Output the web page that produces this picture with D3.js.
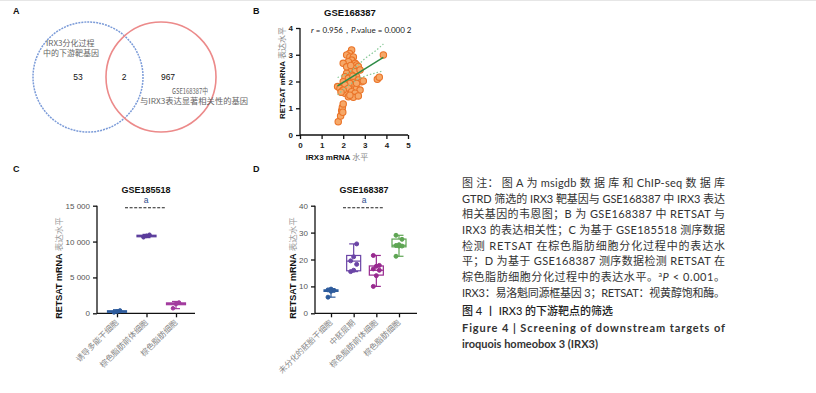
<!DOCTYPE html>
<html>
<head>
<meta charset="utf-8">
<script src="https://cdn.jsdelivr.net/npm/d3@7"></script>
<style>
body { margin: 0; background: #fff; }
svg { display: block; }
</style>
</head>
<body>
<div id="chart"></div>
<script>
// ---- data ----
var vennCounts = [53, 2, 967];
var vennLabelA = ["IRX3分化过程", "中的下游靶基因"];
var vennLabelB = ["GSE168387中", "与IRX3表达显著相关性的基因"];

var irx3Expr = [1.77,1.88,1.93,1.96,2.0,1.98,
    2.39,2.29,2.16,2.31,2.47,2.39,2.24,2.0,2.55,2.62,
    2.7,2.47,2.31,2.55,2.16,2.39,2.62,2.08,2.24,2.47,
    2.7,2.85,2.93,2.0,2.31,2.55,1.74,2.08,1.85,2.24,
    2.62,1.93,2.39,2.78,2.08,2.55,2.24,2.47,2.7,2.31,
    2.0,3.58,3.67,3.86,2.16,2.78,2.62,2.45,2.35,1.9];
var retsatExpr = [0.5,0.71,0.91,1.03,1.16,0.85,
    3.18,3.05,2.99,2.92,2.92,2.8,2.74,2.68,2.68,2.62,
    2.56,2.49,2.43,2.37,2.31,2.24,2.18,2.18,2.12,2.06,
    2.06,1.99,2.02,1.99,1.93,1.87,1.81,1.87,1.74,1.74,
    1.74,1.62,1.62,1.68,1.56,1.56,1.43,1.41,1.46,1.49,
    1.68,2.08,2.16,2.99,2.55,2.43,1.93,2.2,2.6,1.6];
var fitLine = [[1.74, 1.84], [3.86, 2.90]];
var ciUpper = [[1.74,2.15],[2.2,2.3],[2.6,2.55],[3.0,2.85],[3.5,3.15],[3.86,3.40]];
var ciLower = [[1.74,1.50],[2.2,1.82],[2.6,2.05],[3.0,2.2],[3.5,2.32],[3.86,2.40]];
var scatterTicks = [0, 1, 2, 3, 4, 5];
var scatterYTicks = [0, 1, 2, 3, 4];

var cGroups = ["诱导多能干细胞", "棕色脂肪前体细胞", "棕色脂肪细胞"];
var cPoints = [[120, 250, 400], [10600, 10800, 10950], [700, 1300, 1500]];
var cBoxes = [
    {min: 100, q1: 150, med: 250, q3: 350, max: 500},
    {min: 10550, q1: 10680, med: 10800, q3: 10880, max: 11000},
    {min: 650, q1: 1200, med: 1350, q3: 1450, max: 1650}];
var cTicks = [0, 5000, 10000, 15000];

var dGroups = ["未分化的胚胎干细胞", "中胚层期", "棕色脂肪前体细胞", "棕色脂肪细胞"];
var dPoints = [[6, 8.2, 8.5, 8.7, 9],
    [15.5, 16, 18.2, 19.5, 21, 25.8],
    [10, 14, 16, 16.5, 17.5, 17.8, 21.5],
    [21.2, 25, 25, 25.2, 25.5, 27.5, 29]];
var dBoxes = [
    {min: 6, q1: 8.2, med: 8.5, q3: 8.7, max: 9},
    {min: 15.5, q1: 15.8, med: 19.4, q3: 21.5, max: 25.8},
    {min: 10, q1: 14.2, med: 16, q3: 17.6, max: 21.5},
    {min: 21.2, q1: 24.7, med: 25.3, q3: 27.6, max: 29}];
var dTicks = [0, 10, 20, 30, 40];

var captionLines = [
    "图 注： 图 A 为 msigdb 数 据 库 和 ChIP-seq 数 据 库",
    "GTRD 筛选的 IRX3 靶基因与 GSE168387 中 IRX3 表达",
    "相关基因的韦恩图；B 为 GSE168387 中 RETSAT 与",
    "IRX3 的表达相关性；C 为基于 GSE185518 测序数据",
    "检测 RETSAT 在棕色脂肪细胞分化过程中的表达水",
    "平；D 为基于 GSE168387 测序数据检测 RETSAT 在"
];

// ---- drawing ----
var W = 816, H = 393;
var latin = "'Liberation Sans', Arial, sans-serif";
var cjk = "'Noto Sans CJK SC', sans-serif";
var capFont = "Lato, 'Noto Sans CJK SC', sans-serif";

var svg = d3.select("#chart").append("svg")
    .attr("width", W).attr("height", H);
svg.append("rect").attr("width", W).attr("height", H).attr("fill", "#fff");
svg.append("line").attr("x1", 0).attr("x2", W).attr("y1", 0.5).attr("y2", 0.5)
    .attr("stroke", "#e6e6e6");

function panelLabel(x, y, t) {
    svg.append("text").attr("x", x).attr("y", y)
        .style("font-family", latin).style("font-weight", "bold")
        .style("font-size", "9px").attr("fill", "#111").text(t);
}

function setupVenn() {
    panelLabel(13, 14, "A");
    var g = svg.append("g");
    g.append("circle").attr("cx", 88).attr("cy", 77).attr("r", 55)
        .attr("fill", "none").attr("stroke", "#7b9bd8")
        .attr("stroke-width", 1.5).attr("stroke-dasharray", "2,1");
    g.append("circle").attr("cx", 161).attr("cy", 77).attr("r", 55)
        .attr("fill", "none").attr("stroke", "#ec8a8a").attr("stroke-width", 1.6);

    g.selectAll("text.cnt").data(vennCounts).enter().append("text")
        .attr("class", "cnt")
        .attr("x", (d, i) => [78, 124, 168][i]).attr("y", 80)
        .attr("text-anchor", "middle")
        .style("font-family", latin).style("font-size", "8.5px")
        .attr("fill", "#111").text(d => d);

    g.selectAll("text.la").data(vennLabelA).enter().append("text")
        .attr("class", "la")
        .attr("x", (d, i) => i === 0 ? 46 : 43).attr("y", (d, i) => 46 + i * 9.5)
        .style("font-family", cjk).style("font-size", "8px")
        .attr("fill", "#666").text(d => d);
    g.selectAll("text.lb").data(vennLabelB).enter().append("text")
        .attr("class", "lb")
        .attr("x", (d, i) => i === 0 ? 172 : 140).attr("y", (d, i) => 93.5 + i * 10)
        .attr("textLength", (d, i) => i === 0 ? 36 : 108)
        .attr("lengthAdjust", "spacingAndGlyphs")
        .style("font-family", cjk).style("font-size", "8px")
        .attr("fill", "#666").text(d => d);
}

function setupScatter() {
    panelLabel(253, 14, "B");
    var x = d3.scaleLinear().domain([0, 5]).range([300, 408]);
    var y = d3.scaleLinear().domain([0, 4]).range([135, 28]);

    svg.append("text").attr("x", 350).attr("y", 16).attr("text-anchor", "middle")
        .style("font-family", latin).style("font-weight", "bold").style("font-size", "9.5px")
        .attr("fill", "#111").text("GSE168387");

    var ax = svg.append("g").attr("transform", "translate(0,135)")
        .call(d3.axisBottom(x).tickValues(scatterTicks).tickSize(4).tickFormat(d3.format("d")));
    var ay = svg.append("g").attr("transform", "translate(300,0)")
        .call(d3.axisLeft(y).tickValues(scatterYTicks).tickSize(4).tickFormat(d3.format("d")));
    [ax, ay].forEach(function (a) {
        a.selectAll("path,line").attr("stroke", "#111").attr("stroke-width", 1.3);
        a.selectAll("text").style("font-family", latin).style("font-weight", "bold")
            .style("font-size", "8px").attr("fill", "#222");
    });
    ax.select("path").attr("d", "M300,0H408");
    ay.select("path").attr("d", "M0,135V28");

    var pts = irx3Expr.map((d, i) => [d, retsatExpr[i]]);
    svg.append("g").selectAll("circle").data(pts).enter().append("circle")
        .attr("cx", d => x(d[0])).attr("cy", d => y(d[1])).attr("r", 3.2)
        .attr("fill", "#f6a868").attr("stroke", "#ea7327").attr("stroke-width", 1.1);

    var line = d3.line().x(d => x(d[0])).y(d => y(d[1])).curve(d3.curveMonotoneX);
    [ciUpper, ciLower].forEach(function (c) {
        svg.append("path").attr("d", line(c)).attr("fill", "none")
            .attr("stroke", "#86c896").attr("stroke-width", 1.2)
            .attr("stroke-dasharray", "1.5,2");
    });
    svg.append("path").attr("d", line(fitLine)).attr("fill", "none")
        .attr("stroke", "#2e8b46").attr("stroke-width", 1.5);

    var ann = svg.append("text").attr("x", 311).attr("y", 33)
        .style("font-family", "Lato, 'Liberation Sans', sans-serif").style("font-size", "8px")
        .attr("fill", "#222");
    ann.append("tspan").style("font-style", "italic").text("r");
    ann.append("tspan").text(" = 0.956，");
    ann.append("tspan").style("font-style", "italic").text("P");
    ann.append("tspan").text(".value = 0.000 2");

    var yl = svg.append("text").attr("transform", "translate(285,73) rotate(-90)")
        .attr("text-anchor", "middle").style("font-size", "8px");
    yl.append("tspan").style("font-family", latin).style("font-weight", "bold")
        .attr("fill", "#111").text("RETSAT mRNA ");
    yl.append("tspan").style("font-family", cjk).attr("fill", "#888").text("表达水平");

    var xl = svg.append("text").attr("x", 337).attr("y", 160)
        .attr("text-anchor", "middle").style("font-size", "8px");
    xl.append("tspan").style("font-family", latin).style("font-weight", "bold")
        .attr("fill", "#111").text("IRX3 mRNA ");
    xl.append("tspan").style("font-family", cjk).attr("fill", "#888").text("水平");
}

function drawBoxPanel(opt) {
    var x = d3.scalePoint().domain(opt.groups).range(opt.xRange);
    var y = d3.scaleLinear().domain(opt.yDomain).range([313.3, 205.7]);
    var g = svg.append("g");

    var ay = g.append("g").attr("transform", "translate(" + opt.axisX + ",0)")
        .call(d3.axisLeft(y).tickValues(opt.ticks).tickSize(4)
            .tickFormat(d => d3.format(",")(d).replace(/,/g, " ")));
    ay.select("path").attr("d", "M0,313.3V205.7");
    var ax = g.append("g").attr("transform", "translate(0,313.3)")
        .call(d3.axisBottom(x).tickSize(4).tickFormat(""));
    ax.select("path").attr("d", "M" + opt.axisX + ",0H" + opt.axisEnd);
    [ax, ay].forEach(function (a) {
        a.selectAll("path,line").attr("stroke", "#111").attr("stroke-width", 1.3);
    });
    ay.selectAll("text").style("font-family", latin).style("font-size", "8px").attr("fill", "#555");

    // group labels, rotated
    g.selectAll("text.grp").data(opt.groups).enter().append("text")
        .attr("class", "grp")
        .attr("transform", d => "translate(" + (x(d) + 2) + ",323) rotate(-45)")
        .attr("text-anchor", "end")
        .style("font-family", cjk).style("font-size", "8px")
        .attr("fill", "#888").text(d => d);

    opt.boxes.forEach(function (b, i) {
        var cx = x(opt.groups[i]), col = opt.colors[i], bw = opt.boxW, cw = opt.capW;
        var bg = g.append("g");
        bg.append("line").attr("x1", cx).attr("x2", cx).attr("y1", y(b.min)).attr("y2", y(b.max))
            .attr("stroke", col).attr("stroke-width", 1.2);
        [b.min, b.max].forEach(function (v) {
            bg.append("line").attr("x1", cx - cw / 2).attr("x2", cx + cw / 2)
                .attr("y1", y(v)).attr("y2", y(v)).attr("stroke", col).attr("stroke-width", 1.2);
        });
        bg.append("rect").attr("x", cx - bw / 2).attr("width", bw)
            .attr("y", y(b.q3)).attr("height", Math.max(1.5, y(b.q1) - y(b.q3)))
            .attr("fill", opt.filled ? col : "#fff").attr("fill-opacity", opt.filled ? 0.6 : 1)
            .attr("stroke", col).attr("stroke-width", 1.2);
        bg.append("line").attr("x1", cx - bw / 2).attr("x2", cx + bw / 2)
            .attr("y1", y(b.med)).attr("y2", y(b.med)).attr("stroke", col).attr("stroke-width", 1.2);
        bg.selectAll("circle").data(opt.points[i]).enter().append("circle")
            .attr("cx", (d, j) => cx + ((j % 3) - 1) * opt.dodge)
            .attr("cy", d => y(d)).attr("r", opt.r)
            .attr("fill", col).attr("stroke", col);
    });

    g.append("text").attr("x", opt.titleX).attr("y", 193).attr("text-anchor", "middle")
        .style("font-family", latin).style("font-weight", "bold").style("font-size", "9px")
        .attr("fill", "#111").text(opt.title);
    g.append("text").attr("x", opt.titleX).attr("y", 203).attr("text-anchor", "middle")
        .style("font-family", latin).style("font-size", "8.5px")
        .attr("fill", "#2c4d8e").text("a");
    g.append("line").attr("x1", opt.dash[0]).attr("x2", opt.dash[1])
        .attr("y1", 207.7).attr("y2", 207.7)
        .attr("stroke", "#222").attr("stroke-width", 1.1).attr("stroke-dasharray", "3,1.6");

    var yl = g.append("text").attr("transform", "translate(" + opt.labelX + ",268) rotate(-90)")
        .attr("text-anchor", "middle");
    yl.append("tspan").style("font-family", latin).style("font-weight", "bold")
        .style("font-size", "9px").attr("fill", "#111").text("RETSAT mRNA ");
    yl.append("tspan").style("font-family", cjk).style("font-size", "8.5px")
        .attr("fill", "#999").text("表达水平");
}

function setupCaption() {
    var g = svg.append("g").style("font-family", capFont).attr("fill", "#333");
    var x0 = 462, w = 263, lh = 15.65;
    g.selectAll("text.cap").data(captionLines).enter().append("text")
        .attr("class", "cap")
        .attr("x", x0).attr("y", (d, i) => 187 + i * lh)
        .attr("textLength", w).attr("lengthAdjust", "spacing")
        .style("font-size", "11px").text(d => d);

    var l7 = g.append("text").attr("x", x0).attr("y", 187 + 6 * lh)
        .attr("textLength", w).attr("lengthAdjust", "spacing").style("font-size", "11px");
    l7.append("tspan").text("棕色脂肪细胞分化过程中的表达水平。");
    l7.append("tspan").attr("dy", -4).style("font-size", "7px").text("a");
    l7.append("tspan").attr("dy", 4).style("font-style", "italic").text("P");
    l7.append("tspan").text(" < 0.001。");

    g.append("text").attr("x", x0).attr("y", 187 + 7 * lh)
        .attr("textLength", w).attr("lengthAdjust", "spacing").style("font-size", "11px")
        .text("IRX3：易洛魁同源框基因 3；RETSAT：视黄醇饱和酶。");

    g.append("text").attr("x", x0).attr("y", 315)
        .style("font-size", "11px").attr("fill", "#222")
        .style("font-weight", "500")
        .text("图 4 丨 IRX3 的下游靶点的筛选");
    g.append("text").attr("x", x0).attr("y", 332)
        .attr("textLength", w).attr("lengthAdjust", "spacing")
        .style("font-size", "11px").style("font-weight", "bold").attr("fill", "#333")
        .text("Figure 4  |  Screening of downstream targets of");
    g.append("text").attr("x", x0).attr("y", 347.5)
        .style("font-size", "11px").style("font-weight", "bold").attr("fill", "#333")
        .text("iroquois homeobox 3 (IRX3)");
}

setupVenn();
setupScatter();
panelLabel(13, 172, "C");
panelLabel(253, 172, "D");
drawBoxPanel({
    groups: cGroups, points: cPoints, boxes: cBoxes, ticks: cTicks,
    yDomain: [0, 15000], xRange: [117, 176], axisX: 97, axisEnd: 195,
    colors: ["#2d5b9c", "#5a3b9b", "#a23a9e"], filled: true,
    boxW: 19, capW: 8, r: 1.8, dodge: 3,
    title: "GSE185518", titleX: 146, dash: [125, 165], labelX: 62
});
drawBoxPanel({
    groups: dGroups, points: dPoints, boxes: dBoxes, ticks: dTicks,
    yDomain: [0, 40], xRange: [331, 399], axisX: 315, axisEnd: 417,
    colors: ["#2d5b9c", "#6b45a6", "#98298f", "#5ea553"], filled: false,
    boxW: 14, capW: 9, r: 2, dodge: 3,
    title: "GSE168387", titleX: 364, dash: [343, 384], labelX: 296
});
setupCaption();
</script>
</body>
</html>
